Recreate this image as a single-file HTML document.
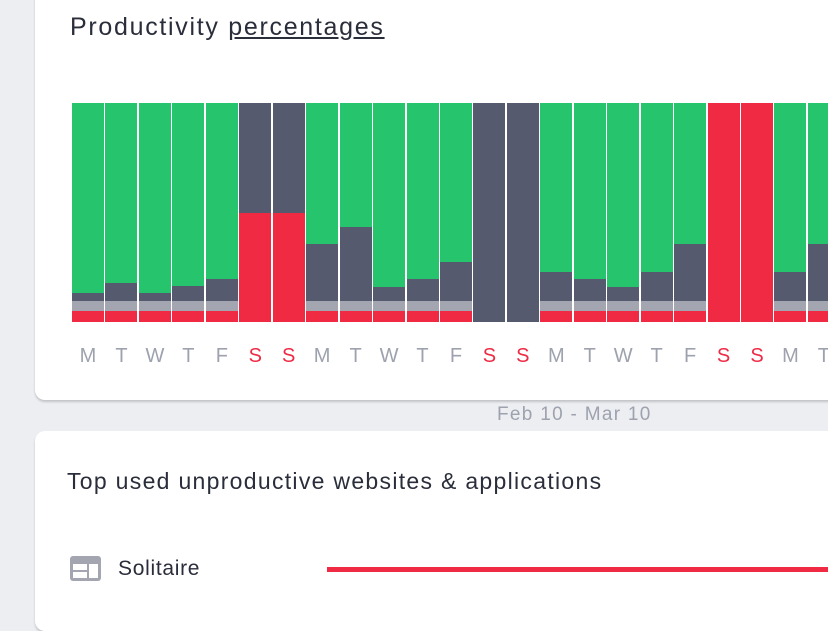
<!DOCTYPE html>
<html><head><style>
body{margin:0;width:828px;height:591px;overflow:hidden;background:#eceef2;font-family:"Liberation Sans",sans-serif;position:relative}
.card{position:absolute;left:35px;width:820px;background:#fff;border-radius:10px;box-shadow:0 2px 2px rgba(0,0,0,.18)}
.b{position:absolute;width:32px;top:103px;height:219px;background:#26c46c}
.b div{position:absolute;left:0;width:100%}
.l{position:absolute;top:345px;font-size:20px;width:33px;text-align:center;color:#9ea2ae}
</style></head><body>
<div class="card" style="top:-20px;height:420px"></div>
<div class="card" style="top:431px;height:200px"></div>
<div style="position:absolute;left:70px;top:13px;font-size:25px;letter-spacing:1.7px;color:#2a2d3a">Productivity <span style="text-decoration:underline">percentages</span></div>
<div id="bars"></div>
<div style="position:absolute;left:497px;top:404px;font-size:19px;letter-spacing:1.3px;color:#9ea2ae">Feb 10 - Mar 10</div>
<div style="position:absolute;left:67px;top:468px;font-size:23px;letter-spacing:1.3px;color:#2a2d3a">Top used unproductive websites &amp; applications</div>
<div style="position:absolute;left:70px;top:556px;width:31px;height:25px;background:#a3a6b0;border-radius:3px"></div>
<div style="position:absolute;left:73px;top:564px;width:14px;height:6px;background:#fff"></div>
<div style="position:absolute;left:73px;top:572px;width:14px;height:6px;background:#fff"></div>
<div style="position:absolute;left:89px;top:564px;width:9px;height:14px;background:#fff"></div>
<div style="position:absolute;left:118px;top:557px;font-size:21px;letter-spacing:0.7px;color:#2a2d3a">Solitaire</div>
<div style="position:absolute;left:327px;top:567px;width:501px;height:5px;background:#ef2a42"></div>
<script>
var d=[293,283,293,286,279,'sr','sr',244,227,287,279,262,'d','d',272,279,287,272,244,'r','r',272,244];
var L="MTWTFSSMTWTFSSMTWTFSSMT";var h='';
for(var i=0;i<d.length;i++){var x=72+i*33.45;var v=d[i];h+='<div class="b" style="left:'+x+'px">';
if(v=='sr'){h+='<div style="top:0;height:110px;background:#565a6e"></div><div style="top:110px;height:109px;background:#ef2a42"></div>';}
else if(v=='d'){h+='<div style="top:0;height:219px;background:#565a6e"></div>';}
else if(v=='r'){h+='<div style="top:0;height:219px;background:#ef2a42"></div>';}
else{h+='<div style="top:'+(v-103)+'px;height:'+(301-v)+'px;background:#565a6e"></div><div style="top:198px;height:10px;background:#a3a6b0"></div><div style="top:208px;height:11px;background:#ef2a42"></div>';}
h+='</div><div class="l" style="left:'+(x-0.5)+'px;color:'+(L[i]=='S'?'#ee2a45':'#9ea2ae')+'">'+L[i]+'</div>';}
document.getElementById('bars').innerHTML=h;
</script>
</body></html>
